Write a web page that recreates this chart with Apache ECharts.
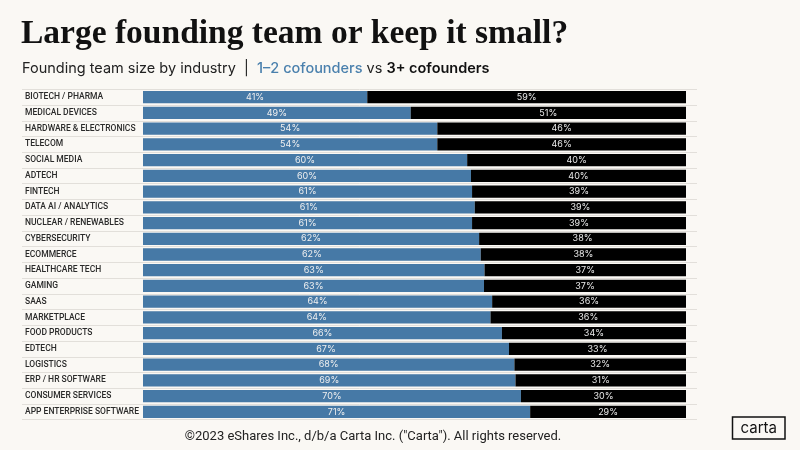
<!DOCTYPE html>
<html>
<head>
<meta charset="utf-8">
<script src="https://cdn.jsdelivr.net/npm/echarts@6/dist/echarts.min.js"></script>
<style>
html,body{margin:0;padding:0;background:#faf8f4;}
#c{width:800px;height:450px;}
</style>
</head>
<body>
<div id="c"></div>
<script>
const categories = ['BIOTECH / PHARMA','MEDICAL DEVICES','HARDWARE & ELECTRONICS','TELECOM','SOCIAL MEDIA','ADTECH','FINTECH','DATA AI / ANALYTICS','NUCLEAR / RENEWABLES','CYBERSECURITY','ECOMMERCE','HEALTHCARE TECH','GAMING','SAAS','MARKETPLACE','FOOD PRODUCTS','EDTECH','LOGISTICS','ERP / HR SOFTWARE','CONSUMER SERVICES','APP ENTERPRISE SOFTWARE'];
const smallTeam = [41.3, 49.3, 54.2, 54.2, 59.7, 60.4, 60.6, 61.1, 60.6, 61.9, 62.2, 62.9, 62.8, 64.3, 64.0, 66.1, 67.4, 68.4, 68.6, 69.6, 71.3];
const largeTeam = [58.7, 50.7, 45.8, 45.8, 40.3, 39.6, 39.4, 38.9, 39.4, 38.1, 37.8, 37.1, 37.2, 35.7, 36.0, 33.9, 32.6, 31.6, 31.4, 30.4, 28.7];

const chart = echarts.init(document.getElementById('c'));
const sans = 'Inter, "Noto Sans", sans-serif';
const narrow = 'Roboto, "Noto Sans", sans-serif';
const gridTop = 89.3, gridBottom = 30.3;
const fmt = p => Math.round(p.value) + '%';

chart.setOption({
  backgroundColor: '#faf8f4',
  animation: false,
  title: [
    {
      text: 'Large founding team or keep it small?',
      left: 21, top: 17, padding: 0,
      textStyle: {fontFamily: '"Liberation Serif", serif', fontWeight: 'bold', fontSize: 33.5, color: '#111'}
    },
    {
      text: '{a|Founding team size by industry  |  }{b|1–2 cofounders}{a| vs }{c|3+ cofounders}',
      left: 22, top: 61, padding: 0,
      textStyle: {
        fontWeight: 'normal',
        rich: {
          a: {fontFamily: sans, fontSize: 14.5, color: '#222', fontWeight: 'normal'},
          b: {fontFamily: sans, fontSize: 14.5, color: '#4a80ad', fontWeight: 500},
          c: {fontFamily: sans, fontSize: 14.5, color: '#111', fontWeight: 600}
        }
      }
    }
  ],
  grid: [
    {left: 22, right: 103, top: gridTop, bottom: gridBottom},
    {left: 143, right: 114, top: gridTop, bottom: gridBottom}
  ],
  xAxis: [
    {type: 'value', gridIndex: 0, min: 0, max: 1, show: false},
    {type: 'value', gridIndex: 1, min: 0, max: 100, show: false}
  ],
  yAxis: [
    {
      type: 'category', gridIndex: 0, data: categories, inverse: true,
      axisLine: {show: false}, axisTick: {show: false}, axisLabel: {show: false},
      splitLine: {show: true, lineStyle: {color: '#e2dfda', width: 1}}
    },
    {
      type: 'category', gridIndex: 1, data: categories, inverse: true,
      axisLine: {show: false}, axisTick: {show: false}, splitLine: {show: false},
      axisLabel: {align: 'left', margin: 118, fontFamily: narrow, fontSize: 8.5, fontWeight: 500, color: '#2a2a2a'}
    }
  ],
  series: [
    {
      name: '1–2 cofounders', type: 'bar', stack: 's', xAxisIndex: 1, yAxisIndex: 1,
      data: smallTeam, barCategoryGap: '22%',
      itemStyle: {color: '#4679a6'},
      label: {show: true, position: 'inside', formatter: fmt, color: '#f0f0f0', fontFamily: sans, fontSize: 9}
    },
    {
      name: '3+ cofounders', type: 'bar', stack: 's', xAxisIndex: 1, yAxisIndex: 1,
      data: largeTeam, barCategoryGap: '22%',
      itemStyle: {color: '#000'},
      label: {show: true, position: 'inside', formatter: fmt, color: '#eaeaea', fontFamily: sans, fontSize: 9}
    }
  ],
  graphic: [
    {
      type: 'text', x: 373, y: 437,
      style: {text: '©2023 eShares Inc., d/b/a Carta Inc. ("Carta"). All rights reserved.', fontFamily: narrow, fontSize: 13, fill: '#222', textAlign: 'center', textVerticalAlign: 'middle'}
    },
    {
      type: 'rect', shape: {x: 732.5, y: 417, width: 52.5, height: 22},
      style: {fill: 'none', stroke: '#111', lineWidth: 1.5}
    },
    {
      type: 'text', x: 758.7, y: 428,
      style: {text: 'carta', fontFamily: sans, fontSize: 15, fill: '#111', textAlign: 'center', textVerticalAlign: 'middle'}
    }
  ]
});
</script>
</body>
</html>
